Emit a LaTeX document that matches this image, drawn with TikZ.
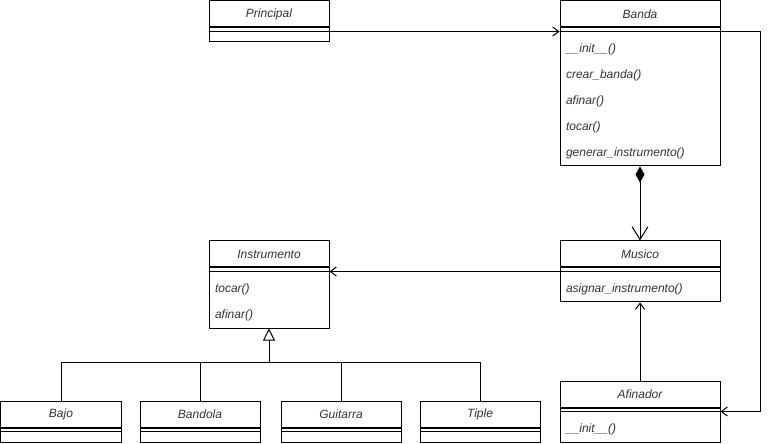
\documentclass[tikz,border=0pt]{standalone}
\usepackage{fontspec}
\setmainfont{Liberation Sans}
\usepackage{tikz}
\usetikzlibrary{positioning, arrows.meta}
\definecolor{umltext}{HTML}{333333}

\tikzset{
	umlfont/.style={font=\fontsize{12bp}{14bp}\selectfont\itshape, text=umltext},
	classhead/.style={draw, rectangle, anchor=north west, minimum height=26bp, inner sep=0pt, umlfont},
	classbody/.style={draw, rectangle, minimum height=#1, inner sep=0pt},
	classbody/.default=14bp,
	method/.style={anchor=north west, minimum height=26bp, inner xsep=6bp, inner ysep=0pt, umlfont},
	open arrow/.style={-{Straight Barb[length=6bp,width=9bp]}},
	composition/.style={{Diamond[length=16bp,width=9bp]}-{Straight Barb[length=13bp,width=16bp]}},
	inherit/.style={-{Triangle[open,length=12bp,width=12bp,fill=white]}}
}

\begin{document}
\begin{tikzpicture}[x=1bp,y=-1bp,line width=1bp]
	\useasboundingbox (0,0) rectangle (768,444);
	% clases
	\node[classhead, minimum width=120bp] (principal) at (208.5,0.5) {Principal};
	\node[classbody, minimum width=120bp] (principal-body) [below=0pt of principal] {};
	\node[classhead, minimum width=160bp] (banda) at (559.5,0.5) {Banda};
	\node[classbody=138bp, minimum width=160bp] (banda-body) [below=0pt of banda] {};
	\node[classhead, minimum width=120bp] (instrumento) at (208.5,240.5) {Instrumento};
	\node[classbody=60bp, minimum width=120bp] (instrumento-body) [below=0pt of instrumento] {};
	\node[classhead, minimum width=160bp] (musico) at (559.5,240.5) {Musico};
	\node[classbody=34bp, minimum width=160bp] (musico-body) [below=0pt of musico] {};
	\node[classhead, minimum width=160bp] (afinador) at (559.5,380.5) {Afinador};
	\node[classbody=34bp, minimum width=160bp] (afinador-body) [below=0pt of afinador] {};
	\node[classhead, minimum width=120bp] (bajo) at (0.5,400.5) {Bajo};
	\node[classbody, minimum width=120bp] (bajo-body) [below=0pt of bajo] {};
	\node[classhead, minimum width=120bp] (bandola) at (139.5,400.5) {Bandola};
	\node[classbody, minimum width=120bp] (bandola-body) [below=0pt of bandola] {};
	\node[classhead, minimum width=120bp] (guitarra) at (280.5,400.5) {Guitarra};
	\node[classbody, minimum width=120bp] (guitarra-body) [below=0pt of guitarra] {};
	\node[classhead, minimum width=120bp] (tiple) at (419.5,400.5) {Tiple};
	\node[classbody, minimum width=120bp] (tiple-body) [below=0pt of tiple] {};
	\foreach \c in {principal,banda,instrumento,musico,afinador,bajo,bandola,guitarra,tiple}
		\draw ([yshift=-4bp]\c-body.north west) -- ([yshift=-4bp]\c-body.north east);
	% metodos
	\foreach \m [count=\i] in {\_\_init\_\_(), crear\_banda(), afinar(), tocar(), generar\_instrumento()}
		\node[method] at ([yshift={18bp-\i*26bp}]banda-body.north west) {\m};
	\foreach \m [count=\i] in {tocar(), afinar()}
		\node[method] at ([yshift={18bp-\i*26bp}]instrumento-body.north west) {\m};
	\node[method] at ([yshift=-8bp]musico-body.north west) {asignar\_instrumento()};
	\node[method] at ([yshift=-8bp]afinador-body.north west) {\_\_init\_\_()};
	% relaciones
	\draw[open arrow] ([yshift=-4bp]principal-body.north east) -- ([yshift=-4bp]banda-body.north west);
	\draw[composition] (banda-body.south) -- (musico.north);
	\draw[open arrow] ([yshift=-4bp]musico-body.north west) -- ([yshift=-4bp]instrumento-body.north east);
	\draw[open arrow] (afinador.north) -- (musico-body.south);
	\draw[open arrow] ([yshift=-4bp]banda-body.north east) -- ++(40,0) |- ([yshift=-4bp]afinador-body.north east);
	\coordinate (join) at ([yshift=-34bp]instrumento-body.south);
	\draw[inherit] (join) -- (instrumento-body.south);
	\foreach \c in {bajo,bandola,guitarra,tiple}
		\draw (\c.north) |- (join);
\end{tikzpicture}
\end{document}
